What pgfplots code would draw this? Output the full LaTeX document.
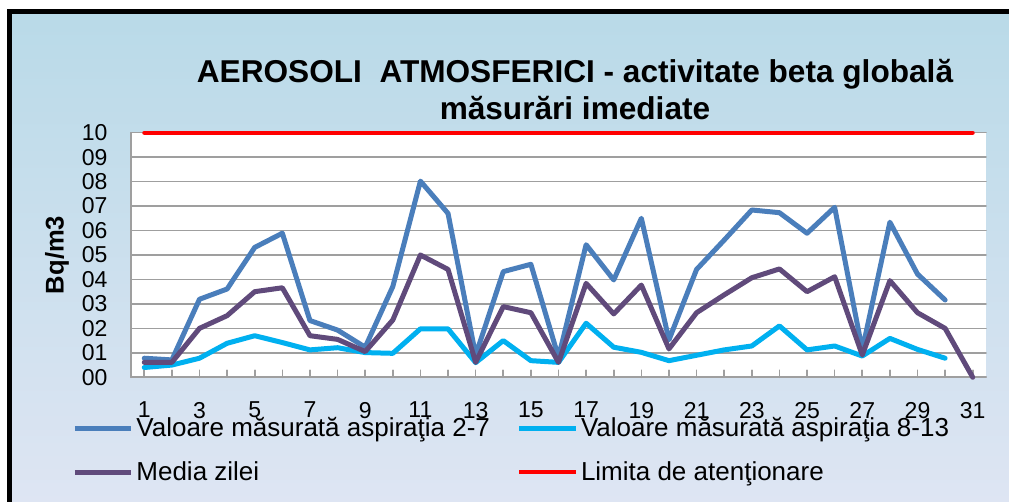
\documentclass[border=0pt]{standalone}
\usepackage{fontspec}
\setmainfont{Liberation Sans}
\usepackage{pgfplots}
\pgfplotsset{compat=1.18}
\definecolor{serA}{HTML}{4A7EBB}
\definecolor{serB}{HTML}{00B0F0}
\definecolor{serC}{HTML}{604A7B}
\definecolor{bgtop}{RGB}{185,218,232}
\definecolor{bgbot}{RGB}{222,229,243}
\begin{document}
\begin{tikzpicture}
\path[use as bounding box] (0,0) rectangle (504.5pt,251pt);
\fill[white] (0,0) rectangle (504.5pt,251pt);
\shade[top color=bgtop, bottom color=bgbot] (4.6pt,0) rectangle (504.5pt,245.1pt);
\draw[line width=2.5pt] (4.6pt,0) -- (4.6pt,245.1pt) -- (504.5pt,245.1pt);
% title
\node[anchor=base, font=\fontsize{15.8}{19}\selectfont\bfseries] at (287.5pt,209.5pt)
  {AEROSOLI\ \ ATMOSFERICI - activitate beta globală};
\node[anchor=base, font=\fontsize{15.8}{19}\selectfont\bfseries] at (287.5pt,191pt)
  {măsurări imediate};
\begin{axis}[
  at={(65.5pt,62.35pt)}, anchor=south west,
  scale only axis, width=427.5pt, height=122.3pt,
  xmin=0.52, xmax=31.48, ymin=0, ymax=10,
  clip=false,
  axis background/.style={fill=white},
  axis lines=left,
  axis line style={-, draw=gray!75, line width=0.8pt},
  xtick={1,...,31},
  xticklabels={1,,3,,5,,7,,9,,11,,13,,15,,17,,19,,21,,23,,25,,27,,29,,31},
  ytick={0,...,10},
  yticklabels={00,01,02,03,04,05,06,07,08,09,10},
  tick align=inside,
  major tick length=3.5pt,
  x tick style={draw=gray!75, line width=0.8pt},
  y tick style={draw=none},
  ymajorgrids,
  grid style={draw=gray!75, line width=0.8pt},
  /pgf/number format/assume math mode=true,
  tick label style={font=\fontsize{11.5}{13}\selectfont},
  xticklabel style={yshift=-8.9pt},
  yticklabel style={xshift=-8.2pt},
  ylabel={Bq/m3},
  every axis y label/.style={at={(axis description cs:-0.0866,0.5)}, rotate=90, anchor=center,
    font=\fontsize{12.8}{15}\selectfont\bfseries},
  legend columns=2,
  legend cell align=left,
  legend style={draw=none, fill=none, at={(axis description cs:-0.076,-0.128)}, anchor=north west,
    font=\fontsize{13}{15}\selectfont, row sep=7pt,
    nodes={inner xsep=1.5pt},
    /tikz/every even column/.append style={column sep=12pt}},
  legend image code/.code={\draw[#1] (0pt,0pt) -- (28pt,0pt);},
  line join=round, line cap=round,
]
\addplot[serA, line width=2.5pt] coordinates {
(1,0.78) (2,0.71) (3,3.19) (4,3.61) (5,5.31) (6,5.89) (7,2.32) (8,1.93) (9,1.23) (10,3.71)
(11,8.02) (12,6.70) (13,0.90) (14,4.32) (15,4.62) (16,0.82) (17,5.42) (18,3.98) (19,6.50) (20,1.53)
(21,4.41) (22,5.61) (23,6.84) (24,6.73) (25,5.89) (26,6.95) (27,1.12) (28,6.34) (29,4.22) (30,3.16)
};
\addlegendentry{Valoare măsurată aspiraţia 2-7}
\addplot[serB, line width=2.5pt] coordinates {
(1,0.40) (2,0.50) (3,0.78) (4,1.39) (5,1.70) (6,1.42) (7,1.12) (8,1.21) (9,1.01) (10,0.98)
(11,1.98) (12,1.98) (13,0.60) (14,1.50) (15,0.68) (16,0.61) (17,2.21) (18,1.23) (19,1.02) (20,0.68)
(21,0.90) (22,1.12) (23,1.28) (24,2.10) (25,1.12) (26,1.28) (27,0.87) (28,1.59) (29,1.14) (30,0.78)
};
\addlegendentry{Valoare măsurată aspiraţia 8-13}
\addplot[serC, line width=2.5pt] coordinates {
(1,0.61) (2,0.61) (3,2.00) (4,2.52) (5,3.50) (6,3.66) (7,1.70) (8,1.55) (9,1.05) (10,2.34)
(11,5.00) (12,4.41) (13,0.61) (14,2.89) (15,2.64) (16,0.61) (17,3.84) (18,2.59) (19,3.77) (20,1.16)
(21,2.64) (22,3.37) (23,4.07) (24,4.43) (25,3.50) (26,4.11) (27,0.91) (28,3.95) (29,2.64) (30,2.00)
(31,0.00)
};
\addlegendentry{Media zilei}
\addplot[red, line width=2pt] coordinates {
(1,10) (2,10) (3,10) (4,10) (5,10) (6,10) (7,10) (8,10) (9,10) (10,10)
(11,10) (12,10) (13,10) (14,10) (15,10) (16,10) (17,10) (18,10) (19,10) (20,10)
(21,10) (22,10) (23,10) (24,10) (25,10) (26,10) (27,10) (28,10) (29,10) (30,10) (31,10)
};
\addlegendentry{Limita de atenţionare}
\end{axis}
\end{tikzpicture}
\end{document}
